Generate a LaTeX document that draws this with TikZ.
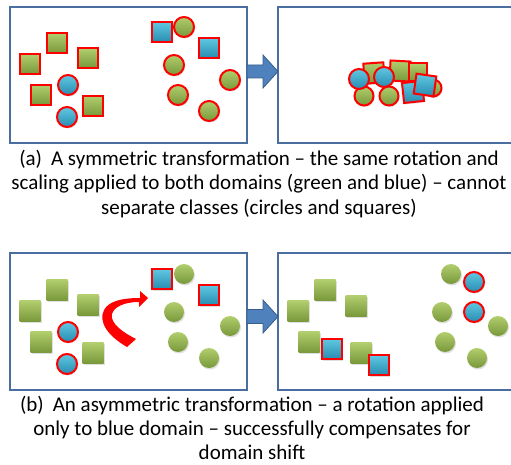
\documentclass[tikz,border=0pt]{standalone}
\usepackage{fontspec}
\setmainfont{Carlito}
\usetikzlibrary{shadows}

\definecolor{boxblue}{RGB}{74,110,160}
\definecolor{arrfill}{RGB}{79,129,189}
\definecolor{arrline}{RGB}{56,93,138}
\definecolor{gtop}{RGB}{178,206,110}
\definecolor{gbot}{RGB}{120,152,58}
\definecolor{btop}{RGB}{96,200,226}
\definecolor{bbot}{RGB}{40,140,176}

\tikzset{
	frame/.style={draw=boxblue,line width=1.4pt},
	blockarr/.style={fill=arrfill,draw=arrline,line width=0.8pt},
	soft/.style={drop shadow={opacity=0.25,shadow xshift=1pt,shadow yshift=-1.5pt}},
	rim/.style={draw=red,line width=2pt},
	gsq/.style={rectangle,inner sep=0pt,minimum size=21pt,top color=gtop,bottom color=gbot,soft},
	gdot/.style={circle,inner sep=0pt,minimum size=20pt,top color=gtop,bottom color=gbot,soft},
	bsq/.style={rectangle,inner sep=0pt,minimum size=20pt,top color=btop,bottom color=bbot,rim,soft},
	bdot/.style={circle,inner sep=0pt,minimum size=20pt,top color=btop,bottom color=bbot,rim,soft},
	caption/.style={align=center,inner sep=0pt,font=\fontsize{21}{24.3}\selectfont}
}

\begin{document}
\begin{tikzpicture}[x=1pt,y=-1pt]
	\useasboundingbox (0,0) rectangle (511,465);

	% frames
	\coordinate (A1) at (10,7);
	\coordinate (A2) at (247,143);
	\coordinate (A3) at (278,7);
	\coordinate (A4) at (278,143);

	\coordinate (B1) at (10,253);
	\coordinate (B2) at (247,390);
	\coordinate (B3) at (278,253);
	\coordinate (B4) at (278,390);

	\draw[frame] (A1) rectangle (A2);
	\draw[frame] (511,7) -- (A3) -- (A4) -- (511,143);
	\draw[frame] (B1) rectangle (B2);
	\draw[frame] (511,253) -- (B3) -- (B4) -- (511,390);

	% block arrows
	\draw[blockarr] (247,65) -- (263,65) -- (263,55) -- (278,71.5) -- (263,88) -- (263,78) -- (247,78) -- cycle;
	\draw[blockarr] (247,309.5) -- (263,309.5) -- (263,300) -- (278,316.5) -- (263,333) -- (263,323.5) -- (247,323.5) -- cycle;

	% (a) before
	\node[gsq,rim,minimum size=20pt] (a1) at (30,64) {};
	\node[gsq,rim,minimum size=20pt] (a2) at (57,43) {};
	\node[gsq,rim,minimum size=20pt] (a3) at (88,58) {};
	\node[gsq,rim,minimum size=20pt] (a4) at (41,95) {};
	\node[gsq,rim,minimum size=20pt] (a5) at (93,106) {};
	\node[bdot] (a6) at (68,85) {};
	\node[bdot] (a7) at (67,117) {};

	\node[bsq] (a8) at (162,32) {};
	\node[gdot,rim] (a9) at (184,27) {};
	\node[bsq] (a10) at (209,48) {};
	\node[gdot,rim] (a11) at (174,65) {};
	\node[gdot,rim] (a12) at (230,80) {};
	\node[gdot,rim] (a13) at (178,95) {};
	\node[gdot,rim] (a14) at (209,111) {};

	% (a) after
	\node[gdot,rim,minimum size=19pt] (c1) at (364,96) {};
	\node[gdot,rim,minimum size=19pt] (c2) at (389,96) {};
	\node[gsq,rim,minimum size=20pt,rotate=4] (c3) at (374,73) {};
	\node[gsq,rim,minimum size=20pt,rotate=-3] (c4) at (400,71) {};
	\node[gsq,rim,minimum size=18pt] (c5) at (418,72) {};
	\node[gdot,rim,minimum size=17pt] (c6) at (433,88) {};
	\node[bsq,rotate=6] (c7) at (413,92) {};
	\node[bsq,rotate=-8] (c8) at (425,85) {};
	\node[bdot] (c9) at (359,79) {};
	\node[bdot] (c10) at (384,77) {};

	% (b) before
	\node[gsq] (b1) at (30,311) {};
	\node[gsq] (b2) at (57,290) {};
	\node[gsq] (b3) at (88,305) {};
	\node[gsq] (b4) at (41,342) {};
	\node[gsq] (b5) at (93,353) {};
	\node[bdot] (b6) at (68,332) {};
	\node[bdot] (b7) at (67,364) {};

	\node[bsq] (b8) at (162,279) {};
	\node[gdot] (b9) at (184,274) {};
	\node[bsq] (b10) at (209,295) {};
	\node[gdot] (b11) at (174,312) {};
	\node[gdot] (b12) at (230,326) {};
	\node[gdot] (b13) at (178,342) {};
	\node[gdot] (b14) at (209,358) {};

	% rotation of the blue domain
	\fill[red] (127,347) .. controls (108,336) and (98,322) .. (104,310)
		.. controls (109,301) and (122,298) .. (140,298)
		-- (140,291) -- (148,298) -- (139,307) -- (139,302)
		.. controls (124,302) and (114,307) .. (112,314)
		.. controls (110,323) and (122,332) .. (136,339) -- cycle;

	% (b) after
	\node[gsq] (d1) at (298,311) {};
	\node[gsq] (d2) at (325,290) {};
	\node[gsq] (d3) at (356,306) {};
	\node[gsq] (d4) at (309,342) {};
	\node[bsq] (d5) at (332,349) {};
	\node[gsq] (d6) at (361,353) {};
	\node[bsq] (d7) at (379,365) {};

	\node[gdot] (d8) at (451,274) {};
	\node[bdot] (d9) at (474,282) {};
	\node[gdot] (d10) at (442,312) {};
	\node[bdot] (d11) at (474,312) {};
	\node[gdot] (d12) at (498,326) {};
	\node[gdot] (d13) at (445,342) {};
	\node[gdot] (d14) at (477,358) {};

	% captions
	\node[caption] (capa) at (259,184) {(a)\hspace{9pt}A symmetric transformation – the same rotation and\\
		scaling applied to both domains (green and blue) – cannot\\
		separate classes (circles and squares)};
	\node[caption] (capb) at (252,428) {(b)\hspace{9pt}An asymmetric transformation – a rotation applied\\
		only to blue domain – successfully compensates for\\
		domain shift};

\end{tikzpicture}
\end{document}
